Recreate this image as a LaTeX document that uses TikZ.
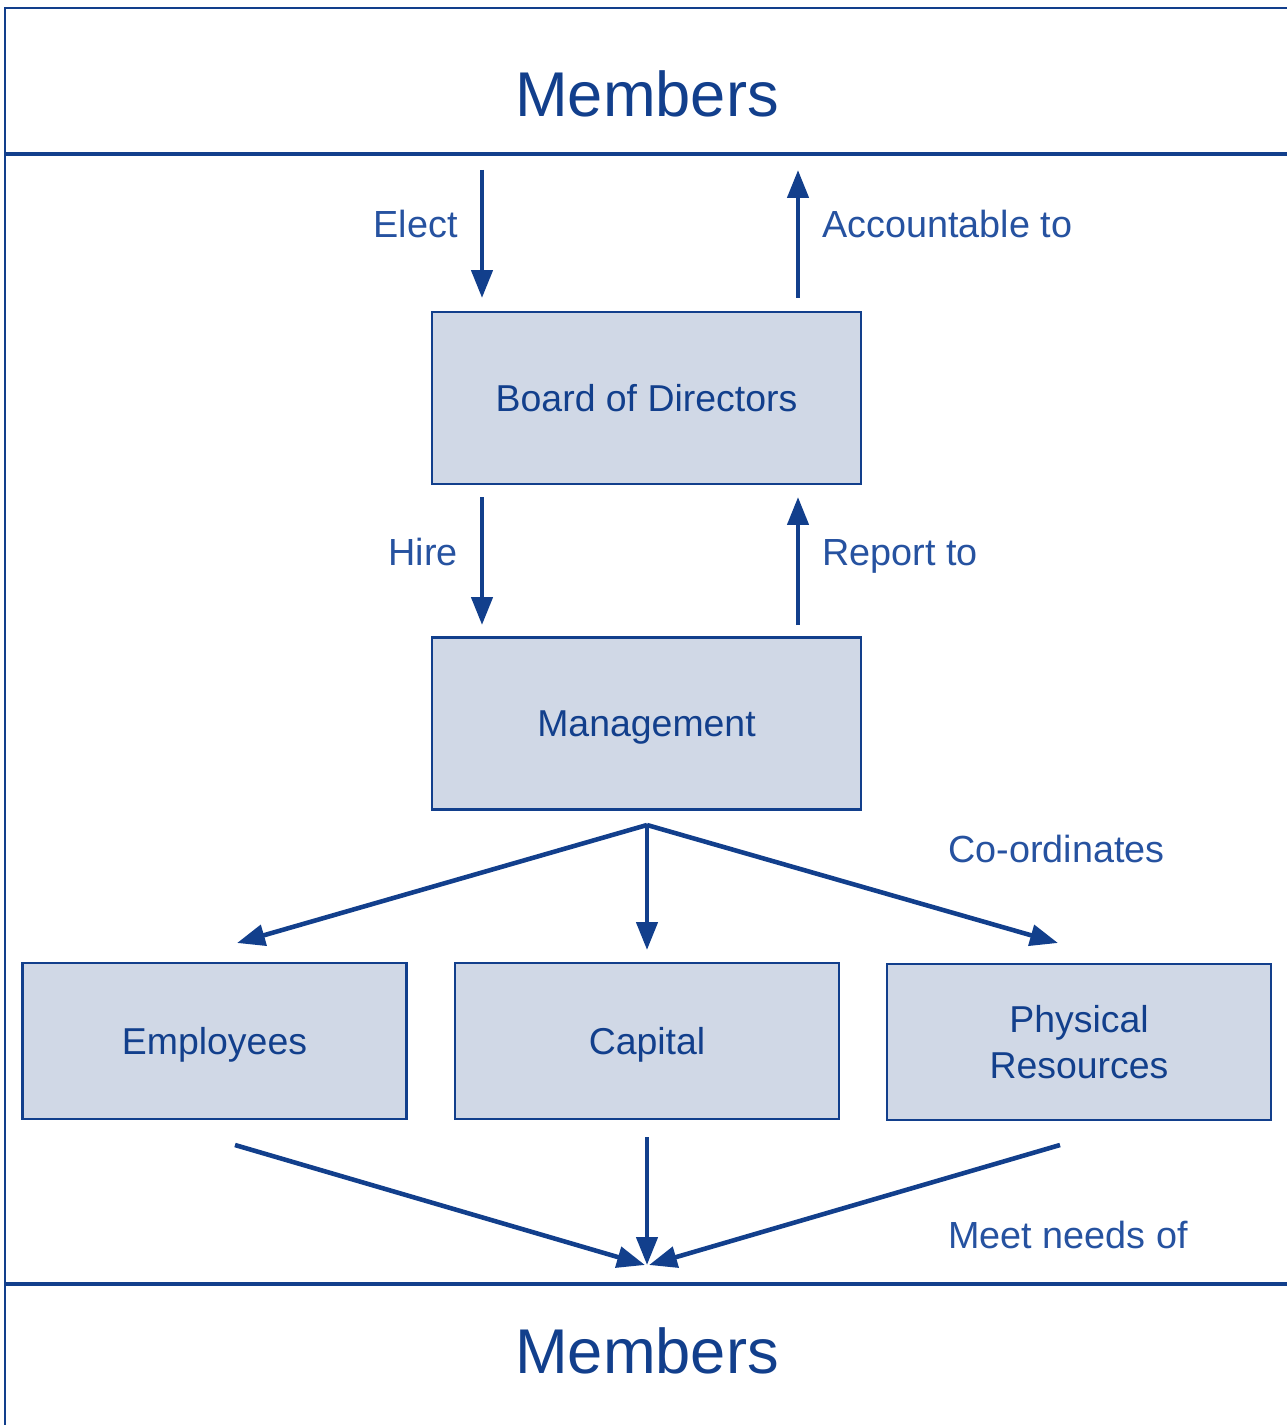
\documentclass[tikz,border=0pt]{standalone}
\usepackage{fontspec}
\setmainfont{Liberation Sans}
\usetikzlibrary{positioning, arrows.meta}
\definecolor{coopblue}{RGB}{18,63,140}
\definecolor{lblblue}{RGB}{38,82,160}
\definecolor{boxfill}{RGB}{208,216,230}

\begin{document}
\begin{tikzpicture}
            [x=0.02cm, y=-0.02cm,
             box/.style={draw=coopblue, line width=1.2pt, fill=boxfill, text=coopblue,
                         align=center, inner sep=0pt, font=\fontsize{21.3}{26}\selectfont},
             bigbox/.style={box, minimum width=8.58cm, minimum height=3.44cm},
             smallbox/.style={box, minimum width=7.68cm, minimum height=3.12cm},
             oneline/.style={text depth=0pt},
             lbl/.style={text=lblblue, inner sep=0pt, font=\fontsize{21.5}{26}\selectfont},
             title/.style={text=coopblue, inner sep=0pt, font=\fontsize{36}{44}\selectfont},
             link/.style={->, draw=coopblue, line width=2.6pt},
             >={Triangle[length=0.56cm, width=0.42cm]}]

            \useasboundingbox (0,0) rectangle (1287,1425);

            % frame and bands
            \draw[coopblue, line width=1.2pt] (5,1425) -- (5,8) -- (1287,8);
            \draw[coopblue, line width=2.8pt] (5,154) -- (1287,154);
            \draw[coopblue, line width=2.8pt] (5,1284) -- (1287,1284);

            \node[title, anchor=base] (top) at (647,117) {Members};
            \node[title, anchor=base] (bottom) at (647,1373) {Members};

            \node[bigbox, oneline] (board) at (646.5,398) {Board of Directors};
            \node[bigbox, oneline] (mgmt) at (646.5,723.5) {Management};
            \node[smallbox, oneline] (emp) at (214.5,1041) {Employees};
            \node[smallbox, oneline] (cap) at (647,1041) {Capital};
            \node[smallbox] (phys) at (1079,1042) {Physical\\Resources};

            % arrow ends
            \coordinate (electS) at (482,170);
            \coordinate (electE) at (482,298);
            \coordinate (accS) at (798,298);
            \coordinate (accE) at (798,170);
            \coordinate (hireS) at (482,497);
            \coordinate (hireE) at (482,625);
            \coordinate (repS) at (798,625);
            \coordinate (repE) at (798,497);
            \coordinate (fork) at (647,825);
            \coordinate (toEmp) at (237,943);
            \coordinate (toCap) at (647,950);
            \coordinate (toPhys) at (1058,943);
            \coordinate (fromEmp) at (235,1145);
            \coordinate (fromCap) at (647,1137);
            \coordinate (fromPhys) at (1060,1145);
            \coordinate (sink) at (647,1265);

            \draw[link] (electS) -- (electE);
            \draw[link] (accS) -- (accE);
            \draw[link] (hireS) -- (hireE);
            \draw[link] (repS) -- (repE);
            \draw[link] (fork) -- (toEmp);
            \draw[link] (fork) -- (toCap);
            \draw[link] (fork) -- (toPhys);
            \draw[link] (fromEmp) -- ([xshift=-0.04cm]sink);
            \draw[link] (fromCap) -- (sink);
            \draw[link] (fromPhys) -- ([xshift=0.04cm]sink);

            \node[lbl, anchor=base east] (elect) at (458,238) {Elect};
            \node[lbl, anchor=base west] (acc) at (822,238) {Accountable to};
            \node[lbl, anchor=base east] (hire) at (458,565) {Hire};
            \node[lbl, anchor=base west] (rep) at (822,565) {Report to};
            \node[lbl, anchor=base west] (coord) at (948,862) {Co-ordinates};
            \node[lbl, anchor=base west] (meet) at (948,1248) {Meet needs of};
        \end{tikzpicture}
\end{document}
